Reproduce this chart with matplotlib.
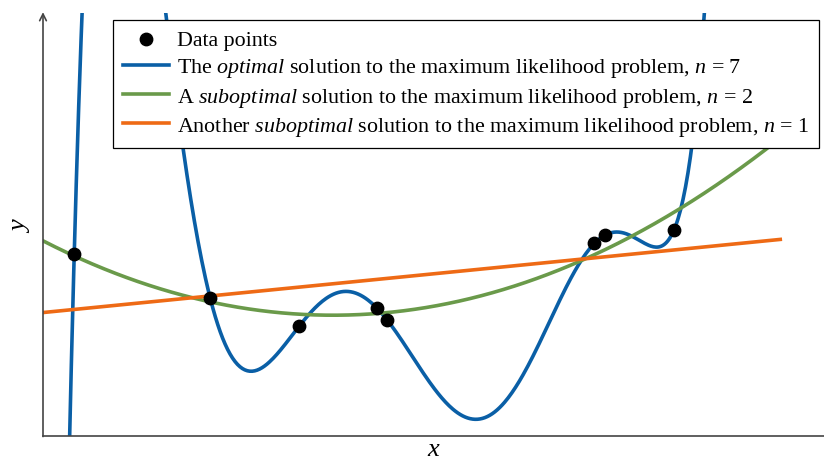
import numpy as np
import matplotlib.pyplot as plt

# ── Data (axes span 0..10 on both axes) ──────────────────────────────────
x_pts = [0.40, 2.14, 3.28, 4.28, 4.41, 7.06, 7.19, 8.08]
y_pts = [4.31, 3.26, 2.59, 3.01, 2.73, 4.55, 4.74, 4.87]
degrees = [7, 2, 1]
labels = [
    r"The $\mathit{optimal}$ solution to the maximum likelihood problem, $n$ = 7",
    r"A $\mathit{suboptimal}$ solution to the maximum likelihood problem, $n$ = 2",
    r"Another $\mathit{suboptimal}$ solution to the maximum likelihood problem, $n$ = 1",
]
colors = ["#0a5fa6", "#6a9a4a", "#ee6a15"]
x_range = (0.0, 9.44)

plt.rcParams["font.family"] = "Liberation Serif"
plt.rcParams["mathtext.fontset"] = "custom"
plt.rcParams["mathtext.rm"] = "Liberation Serif"
plt.rcParams["mathtext.it"] = "Liberation Serif:italic"

fig = plt.figure(figsize=(8.24, 4.64), dpi=100)
ax = fig.add_axes([43 / 824, 27.3 / 464, 1 - 43 / 824, 422.7 / 464])

# Polynomial fits (least squares) of each degree
x_curve = np.linspace(*x_range, 600)
for deg, lab, col in zip(degrees, labels, colors):
    coef = np.polyfit(x_pts, y_pts, deg)
    ax.plot(x_curve, np.polyval(coef, x_curve), color=col, linewidth=2.6,
            label=lab, zorder=2)

ax.scatter(x_pts, y_pts, s=80, color="black", zorder=3, label="Data points")

ax.set_xlim(0, 10)
ax.set_ylim(0, 10)
ax.set_xticks([])
ax.set_yticks([])

# Axis lines: left with arrow, bottom plain
for side in ["top", "right", "left"]:
    ax.spines[side].set_visible(False)
ax.spines["bottom"].set_color("#444444")
ax.spines["bottom"].set_linewidth(1.2)
ax.annotate("", xy=(0, 1.002), xytext=(0, -0.002), xycoords="axes fraction",
            arrowprops=dict(arrowstyle="->", color="#444444", lw=1.2,
                            shrinkA=0, shrinkB=0, mutation_scale=12))

ax.set_xlabel("$x$", fontsize=19, labelpad=2)
ax.set_ylabel("$y$", fontsize=19, labelpad=8)

# Legend: data points first, then the three curves
handles, labs = ax.get_legend_handles_labels()
order = [3, 0, 1, 2]
leg = ax.legend([handles[i] for i in order], [labs[i] for i in order],
                loc="upper left", bbox_to_anchor=(113 / 824, 1 - 21 / 464),
                bbox_transform=fig.transFigure, borderaxespad=0,
                fontsize=15.8, fancybox=False, framealpha=1, edgecolor="black",
                handlelength=2.1, handletextpad=0.35, labelspacing=0.28,
                borderpad=0.45)
leg.get_frame().set_linewidth(0.9)
leg.set_zorder(5)

fig.savefig("out.png", dpi=100)
